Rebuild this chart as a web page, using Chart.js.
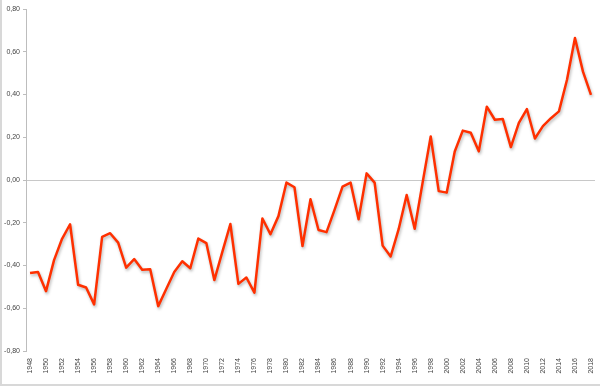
<!DOCTYPE html>
<html>
<head>
<meta charset="utf-8">
<script src="https://cdn.jsdelivr.net/npm/chart.js@4"></script>
<style>
  html, body { margin: 0; padding: 0; background: #fff; }
  #wrap { width: 600px; height: 387px; }
</style>
</head>
<body>
<div id="wrap"><canvas id="myChart" width="600" height="387"></canvas></div>
<script>
const years = [];
for (let y = 1948; y <= 2018; y++) years.push(String(y));

const anomaly = [
  -0.435, -0.43, -0.52, -0.375, -0.275, -0.207, -0.49, -0.503, -0.582, -0.266,
  -0.249, -0.293, -0.41, -0.37, -0.42, -0.418, -0.59, -0.51, -0.43, -0.38,
  -0.413, -0.274, -0.295, -0.468, -0.336, -0.206, -0.486, -0.456, -0.527, -0.18,
  -0.254, -0.169, -0.012, -0.034, -0.309, -0.09, -0.234, -0.244, -0.14, -0.031,
  -0.012, -0.184, 0.031, -0.012, -0.307, -0.358, -0.23, -0.07, -0.228, -0.01,
  0.204, -0.052, -0.059, 0.133, 0.231, 0.221, 0.134, 0.343, 0.282, 0.285,
  0.154, 0.267, 0.332, 0.194, 0.252, 0.289, 0.321, 0.468, 0.664, 0.507,
  0.398,
];

const yMin = -0.8;
const yMax = 0.8;
const yStep = 0.2;

// light frame on left and bottom edge, like the source image
const framePlugin = {
  id: "frame",
  beforeDraw(chart) {
    const c = chart.ctx;
    c.save();
    c.fillStyle = "#d8d8d8";
    c.fillRect(0, 0, 2, 386);
    c.fillRect(0, 384, 600, 2);
    c.restore();
  },
};

// soft drop shadow under the line
const shadowPlugin = {
  id: "lineShadow",
  beforeDatasetsDraw(chart) {
    const c = chart.ctx;
    c.save();
    c.shadowColor = "rgba(0,0,0,0.28)";
    c.shadowBlur = 3;
    c.shadowOffsetX = 1;
    c.shadowOffsetY = 2;
  },
  afterDatasetsDraw(chart) {
    chart.ctx.restore();
  },
};

const ctx = document.getElementById("myChart").getContext("2d");
const myChart = new Chart(ctx, {
  type: "line",
  data: {
    labels: years,
    datasets: [
      {
        data: anomaly,
        borderColor: "#ff3000",
        borderWidth: 2.5,
        borderJoinStyle: "round",
        pointRadius: 0,
        tension: 0,
        fill: false,
      },
    ],
  },
  options: {
    responsive: false,
    animation: false,
    layout: { padding: { top: 9, right: 5, left: 0, bottom: 0 } },
    plugins: {
      legend: { display: false },
      tooltip: { enabled: false },
    },
    scales: {
      x: {
        offset: true,
        grid: { display: false, drawTicks: false },
        border: { display: false },
        ticks: {
          autoSkip: false,
          minRotation: 90,
          maxRotation: 90,
          padding: 7,
          color: "#444",
          font: { family: "Liberation Sans", size: 7 },
          callback: function (val, i) {
            return i % 2 === 0 ? years[i] : "";
          },
        },
        afterFit: function (scale) {
          scale.height = 36;
          scale.paddingRight = 0;
        },
      },
      y: {
        min: yMin,
        max: yMax,
        ticks: {
          stepSize: yStep,
          padding: 3,
          color: "#444",
          font: { family: "Liberation Sans", size: 7 },
          callback: function (v) {
            const r = Math.round(v * 100) / 100;
            return (r === 0 ? 0 : r).toFixed(2).replace(".", ",");
          },
        },
        grid: {
          color: function (c) {
            return c.tick && Math.abs(c.tick.value) < 1e-9 ? "#c8c8c8" : "rgba(0,0,0,0)";
          },
          tickColor: "#bdbdbd",
          tickLength: 3,
          lineWidth: 1,
        },
        border: { display: true, color: "#bdbdbd", width: 1 },
        afterFit: function (scale) {
          scale.width = 26;
        },
      },
    },
  },
  plugins: [framePlugin, shadowPlugin],
});
</script>
</body>
</html>
